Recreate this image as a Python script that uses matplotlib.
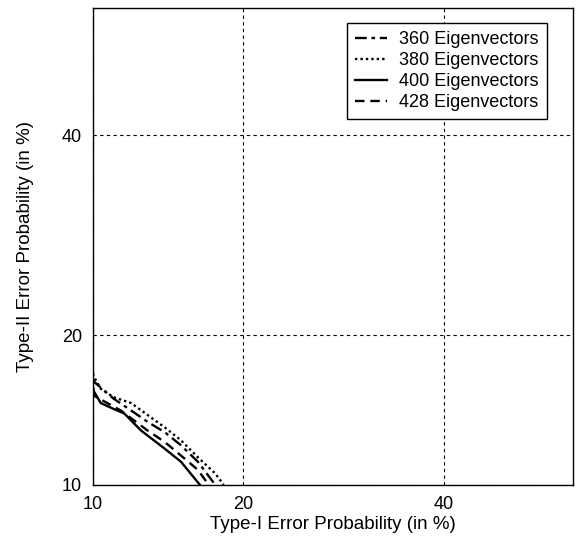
import math
import numpy as np
import matplotlib
matplotlib.use("Agg")
import matplotlib.pyplot as plt

plt.rcParams["font.family"] = ["Liberation Sans", "DejaVu Sans"]

# DET curves, values in percent (Type-I, Type-II)
labels = ["360 Eigenvectors", "380 Eigenvectors", "400 Eigenvectors", "428 Eigenvectors"]

x360 = [10.0, 10.05, 11.1, 12.1, 13.1, 14.2, 15.3, 16.5, 17.8]
y360 = [16.6, 16.4, 15.2, 14.4, 13.65, 13.0, 12.2, 11.25, 10.0]

x380 = [10.0, 10.05, 10.4, 11.1, 12.1, 13.1, 14.2, 15.3, 16.5, 17.8, 18.45]
y380 = [17.0, 16.75, 15.9, 15.3, 14.9, 14.1, 13.3, 12.5, 11.5, 10.6, 10.0]

x400 = [10.0, 10.05, 10.4, 11.1, 11.7, 12.7, 14.2, 15.3, 16.65]
y400 = [16.0, 15.7, 14.9, 14.5, 14.2, 13.1, 12.0, 11.25, 10.0]

x428 = [10.0, 10.05, 11.5, 13.1, 14.2, 15.3, 16.5, 17.3]
y428 = [15.8, 15.4, 14.4, 13.1, 12.4, 11.6, 10.8, 10.0]

ticks = [10, 20, 40]

# normal deviate (probit) scale
a = [-3.969683028665376e+01, 2.209460984245205e+02, -2.759285104469687e+02,
     1.383577518672690e+02, -3.066479806614716e+01, 2.506628277459239e+00]
b = [-5.447609879822406e+01, 1.615858368580409e+02, -1.556989798598866e+02,
     6.680131188771972e+01, -1.328068155288572e+01]
c = [-7.784894002430293e-03, -3.223964580411365e-01, -2.400758277161838e+00,
     -2.549732539343734e+00, 4.374664141464968e+00, 2.938163982698783e+00]
d = [7.784695709041462e-03, 3.224671290700398e-01, 2.445134137142996e+00,
     3.754408661907416e+00]


def _ppf(p):
    p = min(max(p, 1e-9), 1 - 1e-9)
    if p < 0.02425:
        q = math.sqrt(-2 * math.log(p))
        return (((((c[0]*q+c[1])*q+c[2])*q+c[3])*q+c[4])*q+c[5]) / \
               ((((d[0]*q+d[1])*q+d[2])*q+d[3])*q+1)
    if p > 1 - 0.02425:
        return -_ppf(1 - p)
    q = p - 0.5
    r = q * q
    return (((((a[0]*r+a[1])*r+a[2])*r+a[3])*r+a[4])*r+a[5])*q / \
           (((((b[0]*r+b[1])*r+b[2])*r+b[3])*r+b[4])*r+1)


def forward(v):
    v = np.asarray(v, dtype=float)
    return np.vectorize(lambda t: _ppf(t / 100.0) if np.isfinite(t) else t)(v) if v.size else v


def inverse(z):
    z = np.asarray(z, dtype=float)
    return np.vectorize(lambda t: 50.0 * (1 + math.erf(t / math.sqrt(2))))(z) if z.size else z


fig = plt.figure(figsize=(5.78, 5.40), dpi=100)
ax = fig.add_axes([0.161, 0.102, 0.830, 0.883])
ax.set_xscale("function", functions=(forward, inverse))
ax.set_yscale("function", functions=(forward, inverse))

lw = 1.7
ax.plot(x360, y360, color="black", lw=lw, linestyle=(0, (5, 2, 1.5, 2)), label=labels[0])
ax.plot(x380, y380, color="black", lw=lw, linestyle=(0, (1, 1.3)), label=labels[1])
ax.plot(x400, y400, color="black", lw=lw, linestyle="-", label=labels[2])
ax.plot(x428, y428, color="black", lw=lw, linestyle=(0, (4, 2.5)), label=labels[3])

ax.set_xlim(10, 55)
ax.set_ylim(10, 54.8)
ax.set_xticks(ticks)
ax.set_yticks(ticks)
ax.set_xticklabels([str(t) for t in ticks])
ax.set_yticklabels([str(t) for t in ticks])
ax.minorticks_off()
ax.tick_params(length=0, labelsize=13, pad=8)
ax.grid(True, color="black", linestyle=(0, (3, 3)), linewidth=0.8)

for s in ax.spines.values():
    s.set_linewidth(1.0)

ax.set_xlabel("Type-I Error Probability (in %)", fontsize=13.5, labelpad=2)
ax.set_ylabel("Type-II Error Probability (in %)", fontsize=13.5, labelpad=20)

leg = ax.legend(loc="upper left", bbox_to_anchor=(0.529, 0.9686), fontsize=13,
                fancybox=False, framealpha=1, edgecolor="black",
                handlelength=1.75, handletextpad=0.7, borderaxespad=0,
                labelspacing=0.22, borderpad=0.45)
leg.get_frame().set_linewidth(1.0)

fig.savefig("out.png", dpi=100)
